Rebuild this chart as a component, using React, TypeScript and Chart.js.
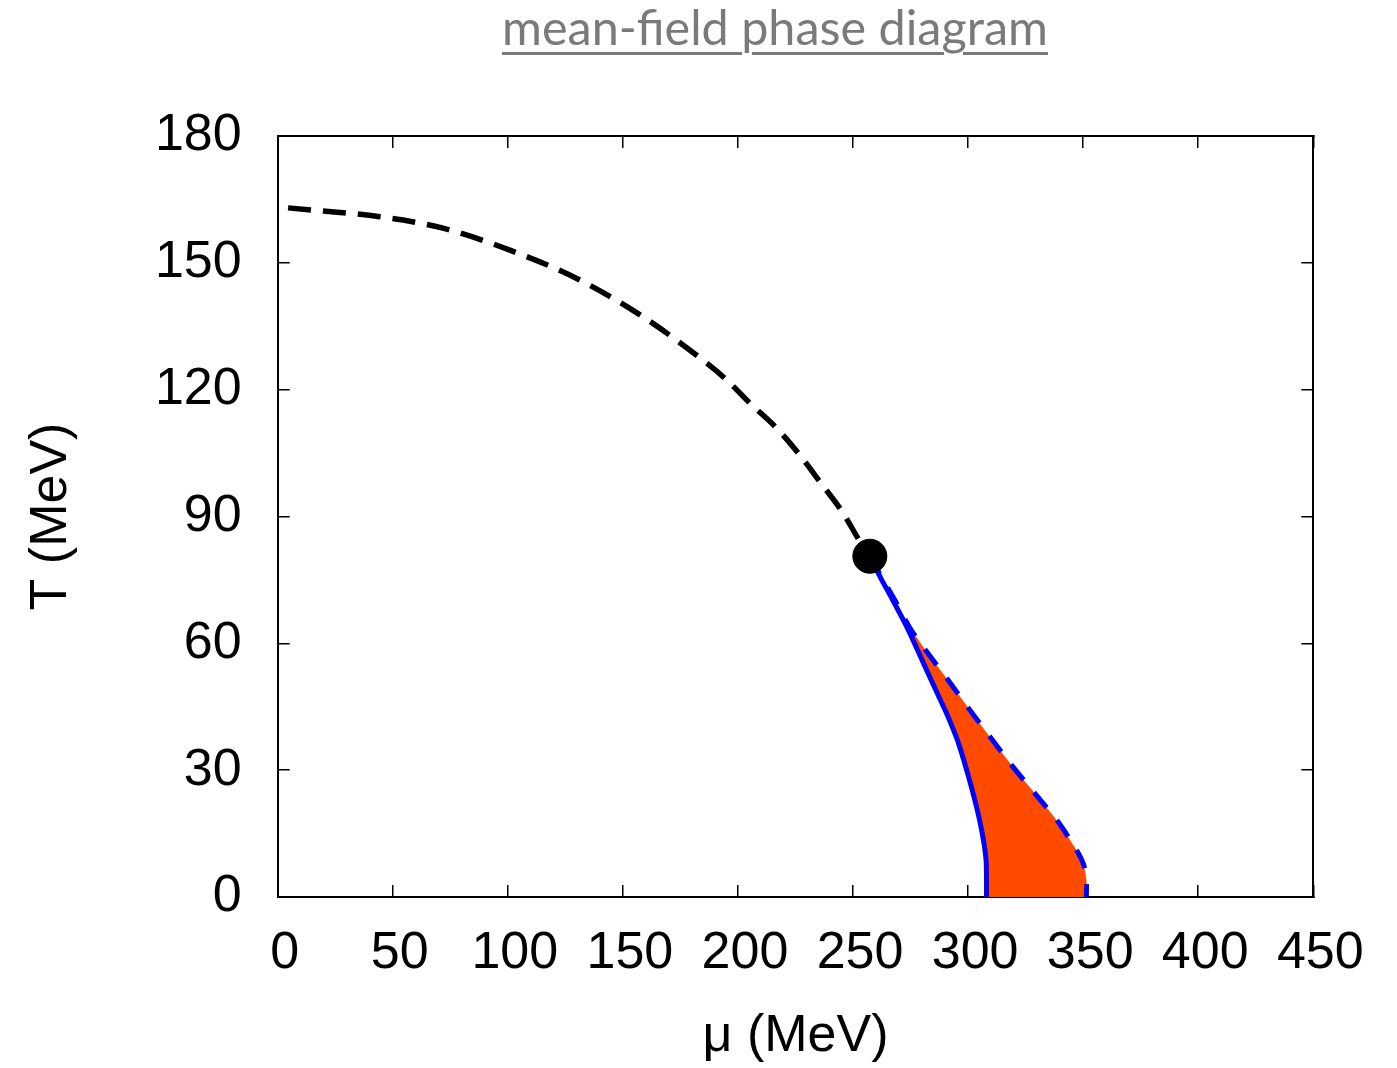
import React, { useEffect, useRef } from "react";
import { Chart, registerables } from "chart.js";

Chart.register(...registerables);

// ---- data ----
const titleText = "mean-field phase diagram";
const xTitle = "μ (MeV)";
const yTitle = "T (MeV)";

const xMin = 0;
const xMax = 450;
const xStep = 50;
const yMin = 0;
const yMax = 180;
const yStep = 30;

// crossover line (black dashed)
const crossoverMu = [4.5, 44.4, 71.8, 100.9, 129.9, 156.6, 181.9, 194.3, 205.2, 216.8, 226.9, 236.3, 245.7, 252.2, 257.3];
const crossoverT = [163.0, 160.9, 158.2, 153.0, 146.3, 138.0, 128.2, 122.7, 116.8, 110.9, 104.5, 97.7, 90.8, 84.8, 80.6];

// critical end point
const criticalMu = [257.3];
const criticalT = [80.6];

// left boundary (blue solid)
const leftMu = [257.3, 262.0, 267.3, 274.0, 281.3, 286.6, 290.6, 295.8, 301.8, 305.6, 307.8, 308.0];
const leftT = [80.6, 75.5, 70.2, 63.2, 54.5, 48.2, 43.5, 36.4, 25.3, 16.6, 8.8, 0.0];

// right boundary (blue dashed)
const rightMu = [257.3, 262.8, 268.4, 275.2, 282.6, 291.3, 300.8, 309.5, 318.9, 329.0, 339.1, 347.1, 350.3, 351.4, 351.4];
const rightT = [80.6, 75.3, 70.0, 63.2, 57.6, 51.3, 44.2, 37.9, 31.2, 24.5, 17.8, 11.1, 7.5, 4.0, 0.0];

// temperature below which the two boundaries separate (shaded region)
const splitT = 63.2;

const toPoints = (xs: number[], ys: number[]) => xs.map((x, i) => ({ x, y: ys[i] }));

const FONT = "'Liberation Sans', Arial, Helvetica, sans-serif";

export default function App() {
  const canvasRef = useRef<HTMLCanvasElement | null>(null);

  useEffect(() => {
    if (!canvasRef.current) return;

    const leftPts = toPoints(leftMu, leftT).filter((p) => p.y <= splitT);
    const rightPts = toPoints(rightMu, rightT).filter((p) => p.y <= splitT).reverse();
    const region = [...leftPts, ...rightPts, leftPts[0]];

    const tickGrid = {
      drawOnChartArea: false,
      drawTicks: true,
      tickLength: -12,
      color: "#000",
      lineWidth: 1.5,
    };
    const border = { display: true, width: 2, color: "#000" };

    const chart = new Chart(canvasRef.current, {
      type: "line",
      data: {
        datasets: [
          {
            label: "critical point",
            data: toPoints(criticalMu, criticalT),
            showLine: false,
            pointRadius: 17,
            pointBackgroundColor: "#000",
            pointBorderColor: "#000",
            pointBorderWidth: 1,
            order: 0,
          },
          {
            label: "crossover",
            data: toPoints(crossoverMu, crossoverT),
            borderColor: "#000",
            borderWidth: 5.5,
            borderDash: [23, 12],
            pointRadius: 0,
            cubicInterpolationMode: "monotone",
            fill: false,
            order: 1,
          },
          {
            label: "right boundary",
            data: toPoints(rightMu, rightT),
            borderColor: "#0000ff",
            borderWidth: 5,
            borderDash: [20, 16],
            pointRadius: 0,
            tension: 0.25,
            fill: false,
            order: 2,
          },
          {
            label: "left boundary",
            data: toPoints(leftMu, leftT),
            borderColor: "#0000ff",
            borderWidth: 5,
            pointRadius: 0,
            tension: 0.25,
            fill: false,
            order: 3,
          },
          {
            label: "coexistence",
            data: region,
            borderWidth: 0,
            borderColor: "rgba(0,0,0,0)",
            backgroundColor: "#ff4a00",
            pointRadius: 0,
            tension: 0.15,
            fill: "shape",
            order: 4,
          },
        ],
      },
      options: {
        responsive: false,
        animation: false,
        events: [],
        layout: { padding: { top: 136, right: 83.7, left: 0, bottom: 0 } },
        plugins: {
          legend: { display: false },
          tooltip: { enabled: false },
          title: { display: false },
        },
        scales: {
          x: {
            type: "linear",
            position: "bottom",
            min: xMin,
            max: xMax,
            ticks: {
              stepSize: xStep,
              color: "#000",
              font: { family: FONT, size: 52 },
              padding: 37,
              labelOffset: 7,
              maxRotation: 0,
              autoSkip: false,
            },
            grid: tickGrid,
            border,
            title: {
              display: true,
              text: xTitle,
              color: "#000",
              font: { family: FONT, size: 52 },
              padding: { top: 0, bottom: 0 },
            },
            afterFit: (s: any) => {
              s.height = 171;
            },
          },
          x2: {
            type: "linear",
            position: "top",
            min: xMin,
            max: xMax,
            ticks: { stepSize: xStep, display: false },
            grid: tickGrid,
            border,
            afterFit: (s: any) => {
              s.height = 0;
            },
          },
          y: {
            type: "linear",
            position: "left",
            min: yMin,
            max: yMax,
            ticks: {
              stepSize: yStep,
              color: "#000",
              font: { family: FONT, size: 52 },
              padding: 48,
              autoSkip: false,
            },
            grid: tickGrid,
            border,
            title: {
              display: true,
              text: yTitle,
              color: "#000",
              font: { family: FONT, size: 52 },
              padding: { top: 20, bottom: 0 },
            },
            afterFit: (s: any) => {
              s.width = 277.7;
            },
          },
          y2: {
            type: "linear",
            position: "right",
            min: yMin,
            max: yMax,
            ticks: { stepSize: yStep, display: false },
            grid: tickGrid,
            border,
            afterFit: (s: any) => {
              s.width = 0;
            },
          },
        },
      } as any,
    });

    return () => chart.destroy();
  }, []);

  return (
    <div style={{ position: "absolute", left: 0, top: 0, width: 1397, height: 1068, background: "#fff" }}>
      <div
        style={{
          position: "absolute",
          left: 775,
          top: 2,
          transform: "translateX(-50%)",
          whiteSpace: "nowrap",
          fontFamily: "Lato, 'Open Sans', sans-serif",
          fontSize: 48.5,
          lineHeight: "48.5px",
          color: "#7a7a7a",
          textDecoration: "underline",
          textDecorationThickness: "3px",
          textUnderlineOffset: "7px",
        }}
      >
        {titleText}
      </div>
      <canvas
        ref={canvasRef}
        width={1397}
        height={1068}
        style={{ position: "absolute", left: 0, top: 0, display: "block" }}
      />
    </div>
  );
}
